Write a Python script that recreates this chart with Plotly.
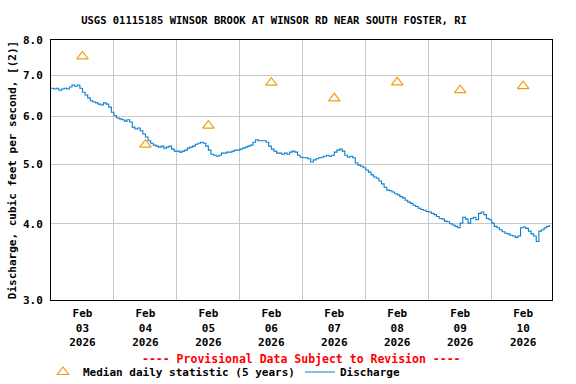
import pandas as pd
import plotly.graph_objects as go

TITLE = "USGS 01115185 WINSOR BROOK AT WINSOR RD NEAR SOUTH FOSTER, RI"

# Hourly discharge readings (cfs), starting 2026-02-03 00:00
discharge = [
    # Feb 3
    6.67, 6.65, 6.67, 6.62, 6.65, 6.67, 6.65, 6.70, 6.75, 6.72, 6.75, 6.67,
    6.57, 6.50, 6.43, 6.36, 6.33, 6.31, 6.28, 6.26, 6.31, 6.28, 6.21, 6.09,
    # Feb 4
    6.01, 5.96, 5.94, 5.92, 5.89, 5.92, 5.87, 5.76, 5.72, 5.74, 5.68, 5.61,
    5.55, 5.47, 5.42, 5.38, 5.36, 5.34, 5.36, 5.32, 5.34, 5.36, 5.30, 5.26,
    # Feb 5
    5.26, 5.24, 5.26, 5.28, 5.32, 5.34, 5.36, 5.40, 5.42, 5.44, 5.42, 5.36,
    5.28, 5.20, 5.18, 5.16, 5.18, 5.22, 5.22, 5.24, 5.24, 5.26, 5.28, 5.28,
    # Feb 6
    5.30, 5.32, 5.34, 5.36, 5.38, 5.44, 5.49, 5.47, 5.47, 5.47, 5.44, 5.36,
    5.30, 5.26, 5.22, 5.22, 5.20, 5.22, 5.20, 5.24, 5.26, 5.24, 5.18, 5.14,
    # Feb 7
    5.13, 5.13, 5.11, 5.05, 5.09, 5.11, 5.13, 5.14, 5.16, 5.18, 5.16, 5.18,
    5.24, 5.28, 5.30, 5.26, 5.18, 5.14, 5.16, 5.13, 5.03, 4.99, 4.97, 4.94,
    # Feb 8
    4.90, 4.86, 4.81, 4.77, 4.75, 4.70, 4.65, 4.59, 4.54, 4.53, 4.51, 4.48,
    4.46, 4.43, 4.41, 4.37, 4.34, 4.32, 4.29, 4.27, 4.24, 4.22, 4.21, 4.19,
    # Feb 9
    4.18, 4.16, 4.14, 4.11, 4.08, 4.07, 4.04, 4.03, 4.00, 3.98, 3.96, 3.94,
    4.01, 4.10, 4.07, 4.01, 4.08, 4.10, 4.06, 4.16, 4.18, 4.14, 4.08, 4.06,
    # Feb 10
    4.01, 3.96, 3.94, 3.91, 3.88, 3.86, 3.85, 3.83, 3.82, 3.80, 3.82, 3.94,
    3.95, 3.93, 3.89, 3.85, 3.82, 3.74, 3.89, 3.91, 3.94, 3.96, 3.98,
]
discharge_times = pd.date_range("2026-02-03 00:00", periods=len(discharge), freq="h")

# Median daily statistic (5 years), plotted at noon of each day
median_days = ["2026-02-03", "2026-02-04", "2026-02-05", "2026-02-06",
               "2026-02-07", "2026-02-08", "2026-02-09", "2026-02-10"]
median_values = [7.52, 5.39, 5.79, 6.81, 6.42, 6.82, 6.62, 6.72]

y_ticks = [3.0, 4.0, 5.0, 6.0, 7.0, 8.0]
y_ticktext = ["3.0", "4.0", "5.0", "6.0", "7.0", "8.0"]

noon = [pd.Timestamp(d) + pd.Timedelta(hours=12) for d in median_days]
midnight = [pd.Timestamp(d) for d in median_days] + [pd.Timestamp("2026-02-11")]
x_ticktext = [f"{t.strftime('%b')}<br>{t.strftime('%d')}<br>{t.strftime('%Y')}" for t in noon]

FONT = "DejaVu Sans Mono"
ORANGE = "#f39c12"
BLUE = "#0a7fd2"

fig = go.Figure()
fig.add_trace(go.Scatter(
    x=noon, y=median_values, mode="markers",
    name="Median daily statistic (5 years)",
    marker=dict(symbol="triangle-up-open", size=10, color=ORANGE, line=dict(width=1.2, color=ORANGE)),
))
fig.add_trace(go.Scatter(
    x=discharge_times, y=discharge, mode="lines", name="Discharge",
    line=dict(color=BLUE, width=1.1, shape="hv"),
))

fig.update_layout(
    width=576, height=384,
    margin=dict(l=51, r=24, t=40, b=84),
    paper_bgcolor="white", plot_bgcolor="white",
    font=dict(family=FONT, size=11, color="black", weight="bold"),
    title=dict(text=TITLE, x=274 / 576, xanchor="center", xref="container",
               y=1 - 20 / 384, yanchor="middle", yref="container",
               font=dict(family=FONT, size=10.5, color="black", weight="bold")),
    showlegend=True,
    legend=dict(orientation="h", x=43 / 576, xanchor="left", xref="container",
                y=1 - 372 / 384, yanchor="middle", yref="container",
                font=dict(family=FONT, size=11, color="black", weight="bold"),
                bgcolor="rgba(0,0,0,0)", itemwidth=30, tracegroupgap=0,
                borderwidth=0),
    annotations=[dict(
        text="---- Provisional Data Subject to Revision ----",
        xref="paper", yref="paper", x=0.5, y=(300 - 359) / 260,
        xanchor="center", yanchor="middle", showarrow=False,
        font=dict(family=FONT, size=11.5, color="#ff0000", weight="bold"),
    )],
)

fig.update_xaxes(
    range=[pd.Timestamp("2026-02-03 00:00"), pd.Timestamp("2026-02-10 23:00")],
    tickmode="array", tickvals=noon, ticktext=x_ticktext, ticks="",
    showgrid=False, zeroline=False, automargin=False,
    showline=True, linecolor="black", linewidth=1, mirror=True,
    ticklabelstandoff=3,
    minor=dict(tickmode="array", tickvals=midnight, showgrid=True,
               gridcolor="#c8c8c8", gridwidth=1, ticks=""),
    tickfont=dict(family=FONT, size=11, color="black", weight="bold"),
)
fig.update_yaxes(
    type="log", range=[0.47712, 0.90309],
    tickmode="array", tickvals=y_ticks, ticktext=y_ticktext, ticks="",
    showgrid=True, gridcolor="#c8c8c8", gridwidth=1, zeroline=False, automargin=False,
    showline=True, linecolor="black", linewidth=1, mirror=True,
    ticklabelstandoff=5,
    title=dict(text="Discharge, cubic feet per second, [(2)]", standoff=4,
               font=dict(family=FONT, size=11, color="black", weight="bold")),
    tickfont=dict(family=FONT, size=11, color="black", weight="bold"),
)

fig.write_html("out.html", config={"displayModeBar": False},
               post_script="document.body.style.margin='0';")
